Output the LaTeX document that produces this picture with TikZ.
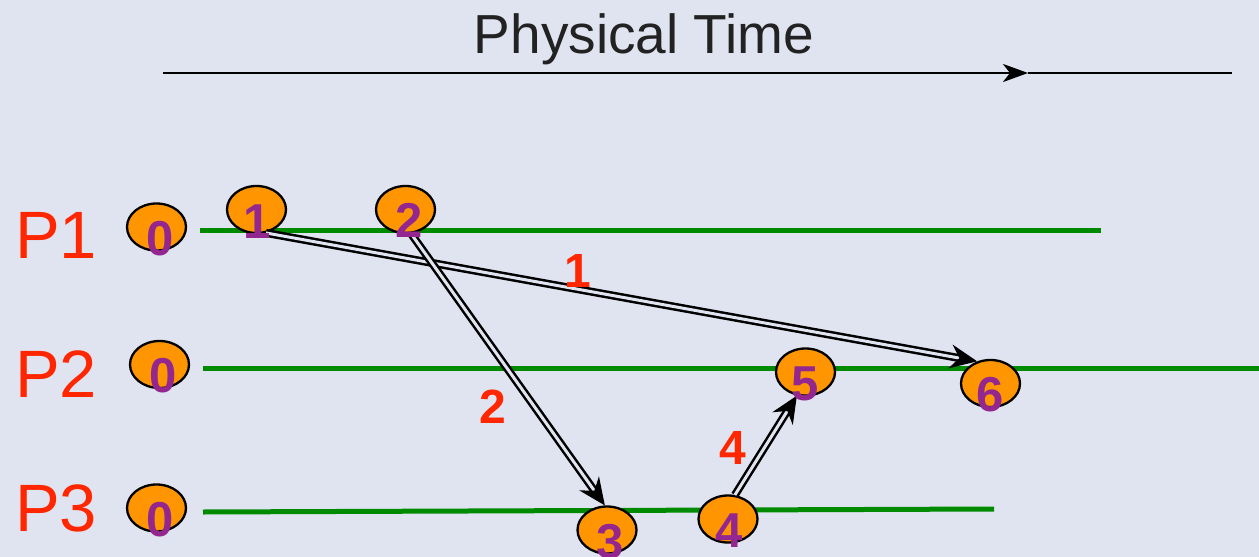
\documentclass[tikz,border=0pt]{standalone}
\usepackage{fontspec}
\setmainfont{Liberation Sans}
\usetikzlibrary{shapes.geometric,arrows.meta}
\definecolor{bgc}{RGB}{223,228,240}
\definecolor{evorange}{RGB}{255,149,0}
\definecolor{numpurple}{RGB}{147,39,143}
\definecolor{lblred}{RGB}{255,38,0}
\definecolor{procgreen}{RGB}{0,138,0}
\definecolor{titlegray}{RGB}{34,34,34}
\begin{document}
\begin{tikzpicture}[x=1pt,y=-1pt,
  ev/.style={ellipse, draw=black, line width=2.3pt, fill=evorange, minimum width=59pt, minimum height=47pt, inner sep=0pt},
  num/.style={text=numpurple, font=\fontsize{49}{49}\selectfont\bfseries, inner sep=0pt, anchor=base},
  msglbl/.style={text=lblred, font=\fontsize{48}{48}\selectfont\bfseries, inner sep=0pt, anchor=base},
  proclbl/.style={text=lblred, font=\fontsize{67}{67}\selectfont, inner sep=0pt, anchor=base west},
  procline/.style={draw=procgreen, line width=5pt},
  tline/.style={draw=black, line width=2.5pt},
  msg/.style={draw=black, line width=2.5pt, double=bgc, double distance=3pt, -{Stealth[length=27pt,width=24pt,inset=9pt]}}
]
\fill[bgc] (0,0) rectangle (1259,557);
\useasboundingbox (0,0) rectangle (1259,557);

% title and time axis
\node[text=titlegray, font=\fontsize{55}{55}\selectfont, inner sep=0pt, anchor=base] (title) at (644,53) {Physical Time};
\coordinate (tl0) at (163,73);
\coordinate (tlm) at (1028,73);
\coordinate (tl1) at (1232,73);
\draw[tline, -{Stealth[length=25pt,width=18pt,inset=7pt]}] (tl0) -- (tlm);
\draw[tline] (tlm) -- (tl1);

% process lines
\coordinate (p1a) at (200,230); \coordinate (p1b) at (1101,230);
\coordinate (p2a) at (203,368); \coordinate (p2b) at (1259,368);
\coordinate (p3a) at (203,512); \coordinate (p3b) at (994,509);
\draw[procline] (p1a) -- (p1b);
\draw[procline] (p2a) -- (p2b);
\draw[procline] (p3a) -- (p3b);

% process labels
\node[proclbl] (P1) at (15,258) {P1};
\node[proclbl] (P2) at (15,397) {P2};
\node[proclbl] (P3) at (15,531) {P3};

% events
\node[ev] (a0) at (156.5,227) {};
\node[ev] (n1) at (256.5,209.5) {};
\node[ev] (n2) at (405.5,209.5) {};
\node[ev] (b0) at (159.5,364.5) {};
\node[ev] (c0) at (156.5,508) {};
\node[ev] (n3) at (607,530) {};
\node[ev] (n4) at (728,519) {};
\node[ev] (n5) at (805.5,372) {};
\node[ev] (n6) at (990.5,383.5) {};

% messages
\draw[msg] (n1.-68) -- (n6.121);
\draw[msg] (n2.-77) -- (n3.95);
\draw[msg] (n4.74) -- (n5.-110);

% event numbers
\node[num] (ta0) at (160,255) {0};
\node[num] (t1) at (257,238) {1};
\node[num] (t2) at (409,237.5) {2};
\node[num] (tb0) at (163,392.5) {0};
\node[num] (tc0) at (160,536) {0};
\node[num] (t3) at (610,558) {3};
\node[num] (t4) at (729,547) {4};
\node[num] (t5) at (805.5,400) {5};
\node[num] (t6) at (990.5,411.5) {6};

% message labels
\node[msglbl] (m1) at (578,287) {1};
\node[msglbl] (m2) at (493,423) {2};
\node[msglbl] (m4) at (732.5,464) {4};
\end{tikzpicture}
\end{document}
